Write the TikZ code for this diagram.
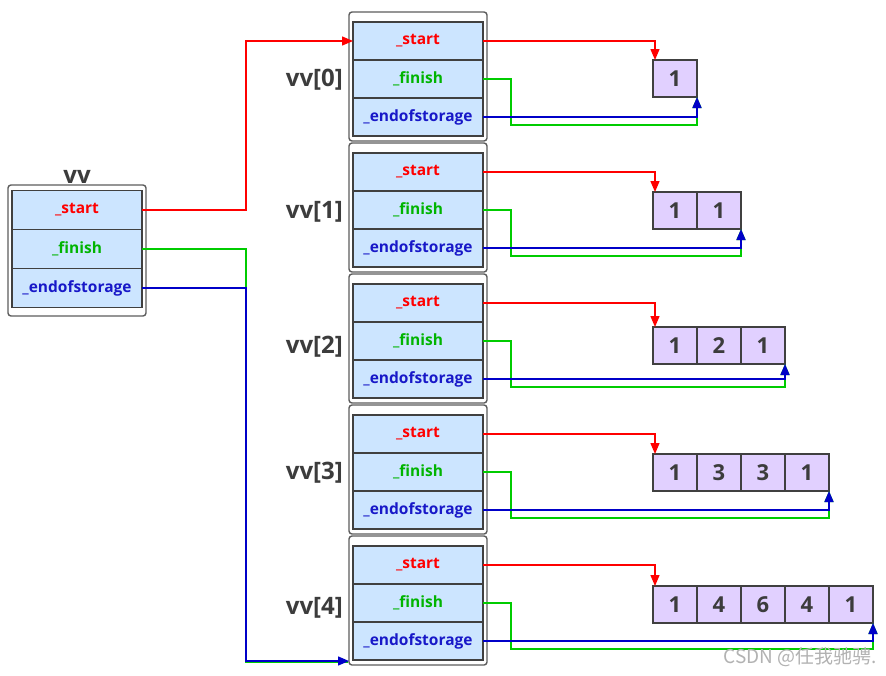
\documentclass[tikz,border=0pt]{standalone}
\usepackage{fontspec}
\setmainfont{Open Sans}
\newfontfamily\cjkf{Noto Sans CJK SC}
\usetikzlibrary{arrows.meta,calc}
\definecolor{cellblue}{HTML}{CCE5FF}
\definecolor{cellpurple}{HTML}{E1D0FF}
\definecolor{edge}{HTML}{404040}
\definecolor{lred}{HTML}{FF0000}
\definecolor{lgreen}{HTML}{00CC00}
\definecolor{lblue}{HTML}{0000C8}
\definecolor{tgreen}{HTML}{00B400}
\definecolor{tblue}{HTML}{1818C8}
\definecolor{labgray}{HTML}{3C3C3C}
\begin{document}
\begin{tikzpicture}[x=1pt,y=-1pt,
 outerbox/.style={draw=edge!85, line width=1.4pt, rounded corners=3pt, fill=white, minimum width=138pt, inner sep=0pt, outer sep=0pt},
 cell/.style={draw=edge, line width=1.4pt, fill=cellblue, minimum width=130pt, minimum height=38pt, inner sep=0pt, outer sep=0pt, font=\fontsize{15.5}{17}\selectfont\bfseries},
 arr/.style={draw=edge, line width=1.4pt, fill=cellpurple, minimum width=44pt, minimum height=37pt, inner sep=0pt, outer sep=0pt, font=\fontsize{22}{24}\selectfont\bfseries, text=labgray},
 vlabel/.style={font=\fontsize{24}{26}\selectfont\bfseries, text=labgray, inner sep=0pt},
 redl/.style={draw=lred, line width=1.4pt},
 greenl/.style={draw=lgreen, line width=1.4pt},
 bluel/.style={draw=lblue, line width=1.4pt},
 tip/.style={-{Triangle[length=11pt,width=9pt]}}
]
\fill[white] (0,0) rectangle (886,675);
\useasboundingbox (0,0) rectangle (886,675);

% left vv structure
\node[outerbox, minimum height=131pt] (lb) at (77,250.5) {};
\node[cell, minimum height=39pt, text=lred] (ls) at (77,210) {\_start};
\node[cell, minimum height=39pt, text=tgreen] (lf) at (77,249) {\_finish};
\node[cell, minimum height=39pt, text=tblue] (le) at (77,288) {\_endofstorage};
\node[vlabel, anchor=base] (lv) at (77,183) {vv};

% vv[k] structures
\foreach \k/\lab in {0/80,1/212,2/347,3/473,4/608}{
  \pgfmathsetmacro{\yo}{12+131*\k}
  \node[outerbox, minimum height=129pt] (b\k) at (418,\yo+64.5) {};
  \node[cell, text=lred] (s\k) at (418,\yo+29) {\_start};
  \node[cell, text=tgreen] (f\k) at (418,\yo+67) {\_finish};
  \node[cell, text=tblue] (e\k) at (418,\yo+105) {\_endofstorage};
  \node[vlabel, anchor=east] (v\k) at (343,\lab) {vv[\k]};
}

% arrays
\foreach \k/\t/\n/\vals in {0/60/1/{1},1/192/2/{1,1},2/327/3/{1,2,1},3/454/4/{1,3,3,1},4/586/5/{1,4,6,4,1}}{
  \foreach \v [count=\i] in \vals {
    \node[arr] (a\k c\i) at (653+44*\i-22,\t+18.5) {\v};
  }
  \coordinate (rt\k) at ($(a\k c1.north west)+(2,0)$);
  \coordinate (gx\k) at ($(f\k.east)+(28,0)$);
  \coordinate (gy\k) at ($(e\k.east)+(0,8)$);
  \draw[redl, tip] (s\k.east) -| (rt\k);
  \draw[greenl, tip] (f\k.east) -- (gx\k) |- (gy\k -| a\k c\n.south east) -- (a\k c\n.south east);
  \draw[bluel, tip] (e\k.east) -| (a\k c\n.south east);
}

% connectors from vv
\coordinate (xl) at (246,0);
\coordinate (t4) at ($(b4.south west)+(0,-4)$);
\coordinate (g4) at ($(b4.south west)+(-1,-3)$);
\draw[redl, tip] (ls.east) -- (ls.east -| xl) |- (s0.west);
\draw[greenl] (lf.east) -- (lf.east -| xl) |- (g4);
\draw[bluel, tip] (le.east) -- (le.east -| xl) |- (t4);

% watermark
\node[text=black!30, font=\cjkf\fontsize{19}{21}\selectfont, inner sep=0pt, anchor=east] (wm) at (877,657) {CSDN @任我驰骋.};
\end{tikzpicture}
\end{document}
